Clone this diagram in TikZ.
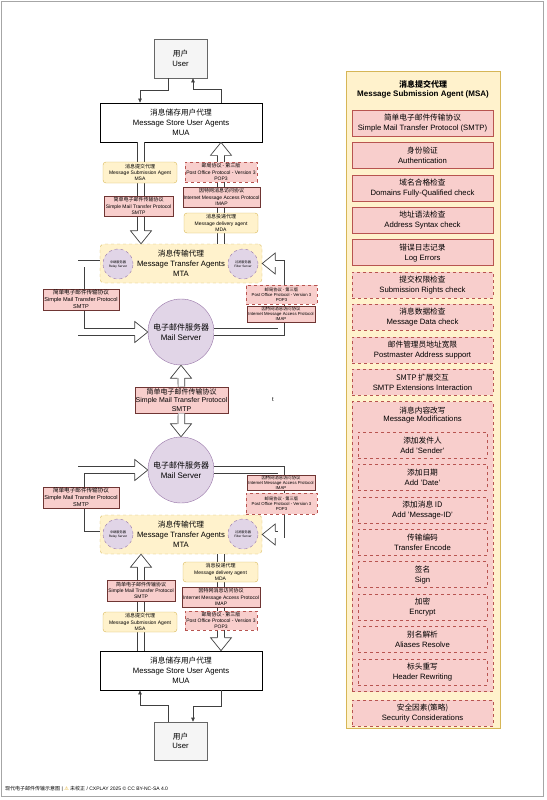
\documentclass[tikz,border=0pt]{standalone}
\usepackage{fontspec}
\setmainfont{Liberation Sans}
\newfontfamily\cjk{Noto Sans CJK SC}
\newfontfamily\symb{DejaVu Sans}
\usetikzlibrary{positioning, arrows.meta}

\definecolor{pinkfill}{HTML}{F8CECC}
\definecolor{pinkline}{HTML}{B85450}
\definecolor{darkpink}{HTML}{6F3533}
\definecolor{yellowfill}{HTML}{FFF2CC}
\definecolor{yellowline}{HTML}{D6B656}
\definecolor{purplefill}{HTML}{E1D5E7}
\definecolor{purpleline}{HTML}{9673A6}
\definecolor{userfill}{HTML}{F5F5F5}
\definecolor{userline}{HTML}{666666}
\definecolor{arrowline}{HTML}{404040}
\definecolor{warnyellow}{HTML}{E0A000}

\newcommand{\fs}[2]{\fontsize{#1}{#2}\selectfont}
% hollow head of a wide arrow, tip at #1, pointing at angle #2
\newcommand{\flexhead}[2]{%
  \filldraw[flexline, fill=white, shift={(#1)}, rotate=#2]
    (-13,3.7) -- (-13,10.5) -- (0,0) -- (-13,-10.5) -- (-13,-3.7);}

\begin{document}
\begin{tikzpicture}[
    x=1pt, y=-1pt,
    every node/.style={align=center, inner sep=0pt},
    boxsize/.style 2 args={minimum width=#1pt, minimum height=#2pt},
    userbox/.style={draw=userline, fill=userfill, line width=0.6pt, boxsize={53}{39}, font=\fs{7.7}{9.5}},
    muabox/.style={draw=black, fill=white, line width=0.7pt, boxsize={162}{39}, font=\fs{7.7}{9.8}},
    mtabox/.style={draw=yellowline, fill=yellowfill, dashed, rounded corners=4pt, boxsize={162}{39}, font=\fs{7.7}{9.8}},
    relaysrv/.style={circle, draw=purpleline, fill=purplefill, dashed, minimum size=30pt, font=\fs{3.2}{4}},
    mailsrv/.style={circle, draw=purpleline, fill=purplefill, minimum size=66pt, font=\fs{8}{10}},
    agentbox/.style={draw=yellowline, fill=yellowfill, rounded corners=3pt},
    protobox/.style={draw=darkpink, fill=pinkfill, line width=0.6pt},
    protodashed/.style={draw=pinkline, fill=pinkfill, dashed},
    checkbox/.style={draw=pinkline, fill=pinkfill, boxsize={141}{26}, font=\fs{7.7}{10}},
    optbox/.style={checkbox, dashed},
    modbox/.style={optbox, boxsize={129}{26}},
    flexline/.style={draw=arrowline, line width=0.7pt},
    flexshaft/.style={flexline, double=white, double distance=6pt, shorten >=8pt},
    thinarrow/.style={draw=arrowline, line width=0.6pt, -{Triangle[length=4pt,width=3.5pt]}}
  ]
  \useasboundingbox (0,0) rectangle (546,800);
  \draw[draw=gray!70, line width=0.8pt] (1,1) rectangle (543.5,796.5);

  % main chain
  \node[userbox] (user1) at (180.5,58.5) {{\cjk 用户}\\User};
  \node[muabox] (mua1) at (181,122.5) {{\cjk 消息储存用户代理}\\Message Store User Agents\\MUA};
  \node[mtabox] (mta1) at (181,263.5) {{\cjk 消息传输代理}\\Message Transfer Agents\\MTA};
  \node[relaysrv] (relay1) at (118,264) {{\cjk 中继服务器}\\Relay Server};
  \node[relaysrv] (filter1) at (243,264) {{\cjk 过滤服务器}\\Filter Server};
  \node[mailsrv] (ms1) at (181,332) {{\cjk 电子邮件服务器}\\Mail Server};
  \node[protobox, boxsize={93}{26}, font=\fs{7}{8.3}] (smtp3) at (181.5,400)
    {{\cjk 简单电子邮件传输协议}\\Simple Mail Transfer Protocol\\SMTP};
  \node[font=\fs{6}{7}] (stray) at (273,400) {t};
  \node[mailsrv] (ms2) at (181,470) {{\cjk 电子邮件服务器}\\Mail Server};
  \node[mtabox] (mta2) at (181,534.5) {{\cjk 消息传输代理}\\Message Transfer Agents\\MTA};
  \node[relaysrv] (relay2) at (118,534) {{\cjk 中继服务器}\\Relay Server};
  \node[relaysrv] (filter2) at (243,534) {{\cjk 过滤服务器}\\Filter Server};
  \node[muabox] (mua2) at (181,670.5) {{\cjk 消息储存用户代理}\\Message Store User Agents\\MUA};
  \node[userbox, boxsize={53}{38}] (user2) at (180.5,741) {{\cjk 用户}\\User};

  % user <-> MUA
  \draw[thinarrow] ([xshift=-12.5pt]user1.south) -- ++(0,12) -| ([xshift=-41pt]mua1.north);
  \draw[thinarrow] ([xshift=40pt]mua1.north) -- ++(0,-13) -| ([xshift=12.5pt]user1.south);
  \draw[thinarrow] ([xshift=-12.5pt]user2.north) -- ++(0,-16) -| ([xshift=-41pt]mua2.south);
  \draw[thinarrow] ([xshift=40pt]mua2.south) -- ++(0,16) -| ([xshift=12.5pt]user2.north);

  % wide arrows
  \draw[flexshaft] ([xshift=-40pt]mua1.south) -- ([xshift=-40pt]mta1.north);
  \flexhead{[xshift=-40pt]mta1.north}{-90}
  \draw[flexshaft] ([xshift=40pt]mta1.north) -- ([xshift=40pt]mua1.south);
  \flexhead{[xshift=40pt]mua1.south}{90}
  \draw[flexshaft] (mta1.west) -- ++(-18.5,0) |- (ms1.west);
  \flexhead{ms1.west}{0}
  \draw[flexshaft] (ms1.east) -- ++(67,0) |- (mta1.east);
  \flexhead{mta1.east}{180}
  \draw[flexshaft] (smtp3.north) -- (ms1.south);
  \flexhead{ms1.south}{90}
  \draw[flexshaft] (smtp3.south) -- (ms2.north);
  \flexhead{ms2.north}{-90}
  \draw[flexshaft] (mta2.west) -- ++(-18.5,0) |- (ms2.west);
  \flexhead{ms2.west}{0}
  \draw[flexshaft] (ms2.east) -- ++(67,0) |- (mta2.east);
  \flexhead{mta2.east}{180}
  \draw[flexshaft] ([xshift=-40pt]mua2.north) -- ([xshift=-40pt]mta2.south);
  \flexhead{[xshift=-40pt]mta2.south}{90}
  \draw[flexshaft] ([xshift=40pt]mta2.south) -- ([xshift=40pt]mua2.north);
  \flexhead{[xshift=40pt]mua2.north}{-90}

  % labels on the arrows, upper half
  \node[agentbox, boxsize={74}{21}, font=\fs{5}{6.2}] (msa1) at (140,172.5)
    {{\cjk 消息提交代理}\\Message Submission Agent\\MSA};
  \node[protobox, boxsize={69}{20}, font=\fs{5}{6.2}] (smtp1) at (138.5,206)
    {{\cjk 简单电子邮件传输协议}\\Simple Mail Transfer Protocol\\SMTP};
  \node[protodashed, boxsize={72}{20}, font=\fs{5}{6.2}] (pop1) at (221,172)
    {{\cjk 邮局协议 - 第三版}\\Post Office Protocol - Version 3\\POP3};
  \node[protobox, boxsize={77}{20}, font=\fs{5}{6.2}] (imap1) at (221.5,197)
    {{\cjk 因特网消息访问协议}\\Internet Message Access Protocol\\IMAP};
  \node[agentbox, boxsize={74}{20}, font=\fs{5}{6.2}] (mda1) at (221,223)
    {{\cjk 消息投递代理}\\Message delivery agent\\MDA};
  \node[protobox, boxsize={76}{21}, font=\fs{5.6}{7}] (smtp2) at (81,299.5)
    {{\cjk 简单电子邮件传输协议}\\Simple Mail Transfer Protocol\\SMTP};
  \node[protodashed, boxsize={71}{19}, font=\fs{4.3}{5.2}] (pop2) at (281.5,294.5)
    {{\cjk 邮局协议 - 第三版}\\Post Office Protocol - Version 3\\POP3};
  \node[protobox, boxsize={68}{16}, font=\fs{4.3}{5}] (imap2) at (281,314)
    {{\cjk 因特网消息访问协议}\\Internet Message Access Protocol\\IMAP};

  % labels on the arrows, lower half
  \node[protobox, boxsize={76}{21}, font=\fs{5.6}{7}] (smtp4) at (81,497.5)
    {{\cjk 简单电子邮件传输协议}\\Simple Mail Transfer Protocol\\SMTP};
  \node[protobox, boxsize={68}{15}, font=\fs{4.3}{5}] (imap4) at (281,482.5)
    {{\cjk 因特网消息访问协议}\\Internet Message Access Protocol\\IMAP};
  \node[protodashed, boxsize={71}{21}, font=\fs{4.3}{5.2}] (pop4) at (281.5,503.5)
    {{\cjk 邮局协议 - 第三版}\\Post Office Protocol - Version 3\\POP3};
  \node[agentbox, boxsize={75}{20}, font=\fs{5}{6.2}] (mda2) at (220.5,572)
    {{\cjk 消息投递代理}\\Message delivery agent\\MDA};
  \node[protobox, boxsize={78}{20}, font=\fs{5}{6.2}] (imap5) at (221,597)
    {{\cjk 因特网消息访问协议}\\Internet Message Access Protocol\\IMAP};
  \node[protodashed, boxsize={72}{19}, font=\fs{5}{6.2}] (pop5) at (221,620.5)
    {{\cjk 邮局协议 - 第三版}\\Post Office Protocol - Version 3\\POP3};
  \node[protobox, boxsize={68}{21}, font=\fs{5}{6.2}] (smtp5) at (141,590.5)
    {{\cjk 简单电子邮件传输协议}\\Simple Mail Transfer Protocol\\SMTP};
  \node[agentbox, boxsize={74}{20}, font=\fs{5}{6.2}] (msa2) at (140,622)
    {{\cjk 消息提交代理}\\Message Submission Agent\\MSA};

  % MSA panel
  \node[draw=yellowline, fill=yellowfill, boxsize={154}{657}] (msapanel) at (423,399.5) {};
  \node[font=\fs{8}{9.5}\bfseries] (msatitle) at (423,89.5)
    {{\cjk 消息提交代理}\\Message Submission Agent (MSA)};
  \node[checkbox] (smtpchk) at (422.5,123) {{\cjk 简单电子邮件传输协议}\\Simple Mail Transfer Protocol (SMTP)};
  \node[checkbox, below=6pt of smtpchk] (authchk) {{\cjk 身份验证}\\Authentication};
  \node[checkbox, below=6pt of authchk] (domchk) {{\cjk 域名合格检查}\\Domains Fully-Qualified check};
  \node[checkbox, below=6pt of domchk] (addrchk) {{\cjk 地址语法检查}\\Address Syntax check};
  \node[checkbox, below=6pt of addrchk] (logchk) {{\cjk 错误日志记录}\\Log Errors};
  \node[optbox, below=6pt of logchk] (rightchk) {{\cjk 提交权限检查}\\Submission Rights check};
  \node[optbox, below=6pt of rightchk] (datachk) {{\cjk 消息数据检查}\\Message Data check};
  \node[optbox, below=6pt of datachk] (postchk) {{\cjk 邮件管理员地址宽限}\\Postmaster Address support};
  \node[optbox, below=6pt of postchk] (extchk) {{\cjk SMTP 扩展交互}\\SMTP Extensions Interaction};
  \node[optbox, boxsize={141}{290}, below=6pt of extchk] (modchk) {};
  \node[font=\fs{7.7}{8.8}, below=5pt of modchk.north] (modtitle) {{\cjk 消息内容改写}\\Message Modifications};
  \node[modbox] (addsender) at (422.5,445) {{\cjk 添加发件人}\\Add 'Sender'};
  \node[modbox, below=6pt of addsender] (adddate) {{\cjk 添加日期}\\Add 'Date'};
  \node[modbox, below=6pt of adddate] (addmsgid) {{\cjk 添加消息 ID}\\Add 'Message-ID'};
  \node[modbox, below=6pt of addmsgid] (encode) {{\cjk 传输编码}\\Transfer Encode};
  \node[modbox, below=6pt of encode] (sign) {{\cjk 签名}\\Sign};
  \node[modbox, below=6pt of sign] (encrypt) {{\cjk 加密}\\Encrypt};
  \node[modbox, below=6pt of encrypt] (aliases) {{\cjk 别名解析}\\Aliases Resolve};
  \node[modbox, below=6pt of aliases] (rewrite) {{\cjk 标头重写}\\Header Rewriting};
  \node[optbox, below=8pt of modchk] (secchk) {{\cjk 安全因素(策略)}\\Security Considerations};

  % footer
  \node[anchor=west, font=\fs{5}{6}] (footer) at (5,789)
    {{\cjk 现代电子邮件传输示意图} | {\symb\color{warnyellow}⚠} {\cjk 未校正} / CXPLAY 2025 © CC BY-NC-SA 4.0};
\end{tikzpicture}
\end{document}
